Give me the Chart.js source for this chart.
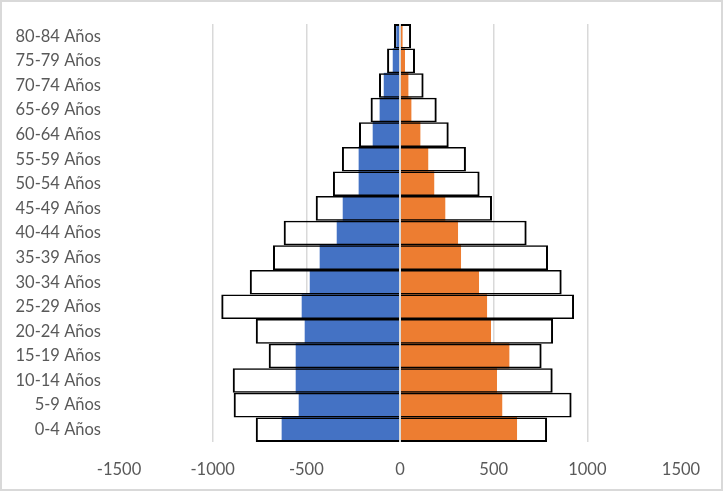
<!DOCTYPE html>
<html><head><meta charset="utf-8">
<script src="https://cdn.jsdelivr.net/npm/chart.js@4.4.1/dist/chart.umd.min.js"></script>
<style>
html,body{margin:0;padding:0;background:#fff;}
#wrap{position:relative;width:725px;height:493px;}
#frame{position:absolute;left:0;top:0;width:719px;height:487px;border:2px solid #d9d9d9;pointer-events:none;}
canvas{display:block;}
</style></head><body>
<div id="wrap"><canvas id="c" width="725" height="493"></canvas><div id="frame"></div></div>
<script>
const ageGroups = ['0-4 Años','5-9 Años','10-14 Años','15-19 Años','20-24 Años','25-29 Años','30-34 Años','35-39 Años','40-44 Años','45-49 Años','50-54 Años','55-59 Años','60-64 Años','65-69 Años','70-74 Años','75-79 Años','80-84 Años'];
const maleFilled   = [-630,-539,-555,-555,-507,-523,-480,-427,-336,-304,-219,-219,-144,-107,-85,-37,-18];
const femaleFilled = [623,544,516,582,484,463,420,324,308,240,181,149,107,59,43,25,12];
const maleTotal    = [-770,-888,-893,-701,-770,-954,-802,-678,-621,-450,-358,-310,-219,-157,-112,-69,-32];
const femaleTotal  = [785,916,815,756,817,929,863,790,676,491,425,352,260,196,126,80,59];
const xTicks = [-1500,-1000,-500,0,500,1000,1500];

const FONT = {family:'Lato', size:16.5};
const TXT = '#595959';
const GRID = '#d9d9d9';

const axisLine = {
  id:'axisLine',
  afterDatasetsDraw(chart){
    const x = chart.scales.x.getPixelForValue(0);
    const {top,bottom} = chart.chartArea;
    const c = chart.ctx;
    c.save(); c.strokeStyle = GRID; c.lineWidth = 2;
    c.beginPath(); c.moveTo(x,top); c.lineTo(x,bottom); c.stroke();
    c.restore();
  }
};

const last = ageGroups.length - 1;
new Chart(document.getElementById('c'), {
  type:'bar',
  data:{
    labels: ageGroups,
    datasets:[
      {label:'Hombres', data:maleFilled, backgroundColor:'#4472C4', order:2},
      {label:'Mujeres', data:femaleFilled, backgroundColor:'#ED7D31', order:2},
      {label:'Total', data:ageGroups.map((_,i)=>[maleTotal[i], femaleTotal[i]]),
       backgroundColor:'rgba(0,0,0,0)', borderColor:'#000000',
       borderWidth: ctx => ({left:2, right:2, top: ctx.dataIndex===last?2:1.5, bottom: ctx.dataIndex===0?2:1.5}),
       borderSkipped:false, inflateAmount:0, order:1}
    ]
  },
  options:{
    indexAxis:'y',
    responsive:false,
    animation:false,
    devicePixelRatio:1,
    datasets:{bar:{grouped:false, barPercentage:1, categoryPercentage:1}},
    layout:{padding:{top:24, right:44, left:0, bottom:0}},
    plugins:{legend:{display:false}, tooltip:{enabled:false}},
    scales:{
      x:{
        type:'linear', min:-1500, max:1500,
        afterBuildTicks: s => { s.ticks = xTicks.map(v=>({value:v})); },
        afterFit: s => { s.height = 51; },
        grid:{color: ctx => (ctx.tick && Math.abs(ctx.tick.value)===1500) ? 'rgba(0,0,0,0)' : GRID, lineWidth:1.5, drawTicks:false},
        border:{display:false},
        ticks:{font:FONT, color:TXT, padding:18, maxRotation:0, callback: v => String(v)}
      },
      y:{
        type:'category', reverse:true,
        afterFit: s => { s.width = 119; s.paddingTop = 0; s.paddingBottom = 0; },
        grid:{display:false, drawTicks:false},
        border:{display:false},
        ticks:{font:FONT, color:TXT, padding:18}
      }
    }
  },
  plugins:[axisLine]
});
</script>
</body></html>
